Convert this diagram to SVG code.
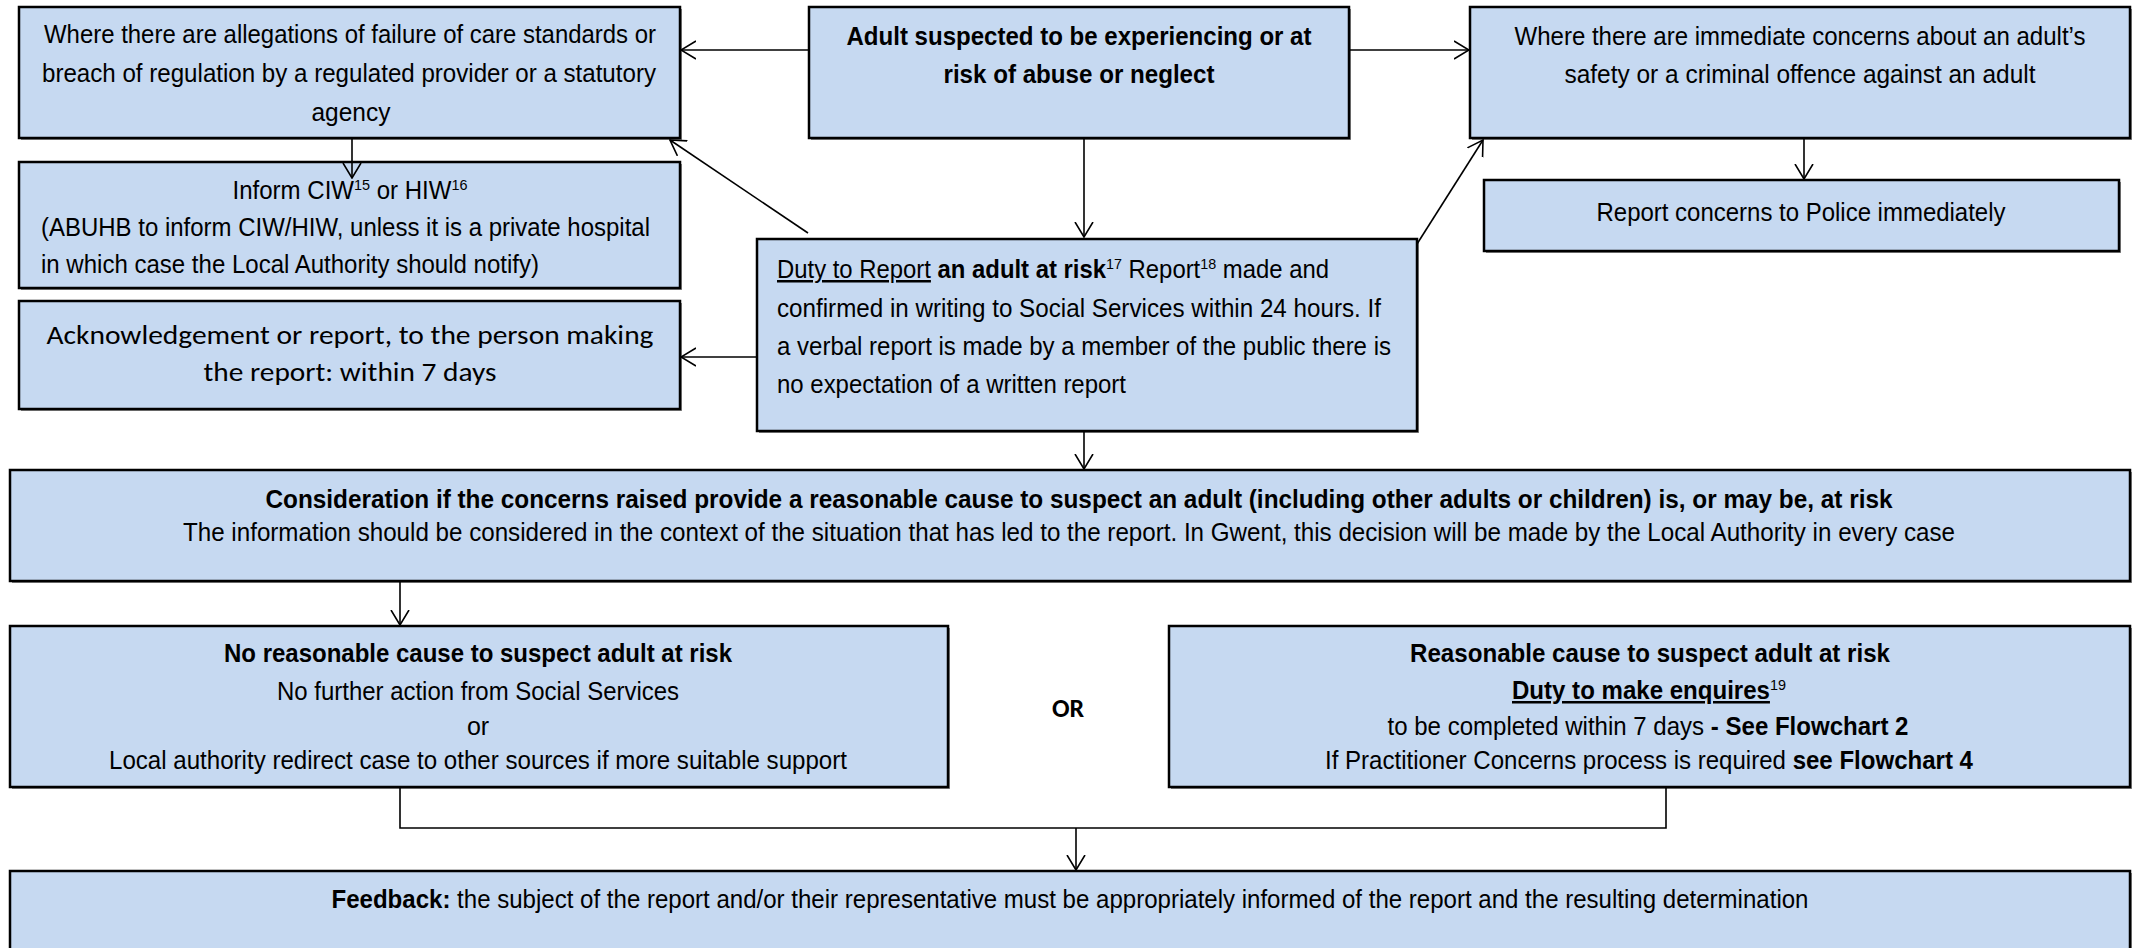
<svg xmlns="http://www.w3.org/2000/svg" width="2138" height="948" viewBox="0 0 2138 948">
<style>
.box{fill:#C6D9F1;stroke:#000;stroke-width:2.5}
.sh{fill:#8a8a8a}
.t{font-family:"Liberation Sans Narrow","Liberation Sans",Arial,sans-serif;font-size:25px;fill:#000}
.c{text-anchor:middle}
.b{font-weight:bold}
.cal{font-family:Carlito,Lato,"Open Sans","Liberation Sans",sans-serif;font-size:26px;fill:#000}
.sup{font-size:15px}
.u{text-decoration:underline}
.ln{fill:none;stroke:#000;stroke-width:1.6}
</style>
<defs>
<marker id="ah" viewBox="0 0 16 20" refX="15" refY="10" markerWidth="16" markerHeight="20" markerUnits="userSpaceOnUse" orient="auto">
<path d="M0,1 L15,10 L0,19" fill="none" stroke="#000" stroke-width="1.6"/>
</marker>
</defs>
<rect width="2138" height="948" fill="#fff"/>

<g id="node-allegations">
<rect class="sh" x="21" y="9" width="661" height="131"/>
<rect class="box" x="19" y="7" width="661" height="131"/>
<text class="t c" x="350" y="43" textLength="612" lengthAdjust="spacingAndGlyphs">Where there are allegations of failure of care standards or</text>
<text class="t c" x="349" y="82" textLength="614" lengthAdjust="spacingAndGlyphs">breach of regulation by a regulated provider or a statutory</text>
<text class="t c" x="351" y="121" textLength="79" lengthAdjust="spacingAndGlyphs">agency</text>
</g>

<g id="node-adult-suspected">
<rect class="sh" x="811" y="9" width="540" height="131"/>
<rect class="box" x="809" y="7" width="540" height="131"/>
<text class="t c b" x="1079" y="45" textLength="465" lengthAdjust="spacingAndGlyphs">Adult suspected to be experiencing or at</text>
<text class="t c b" x="1079" y="83" textLength="271" lengthAdjust="spacingAndGlyphs">risk of abuse or neglect</text>
</g>

<g id="node-immediate-concerns">
<rect class="sh" x="1472" y="9" width="660" height="131"/>
<rect class="box" x="1470" y="7" width="660" height="131"/>
<text class="t c" x="1800" y="45" textLength="571" lengthAdjust="spacingAndGlyphs">Where there are immediate concerns about an adult’s</text>
<text class="t c" x="1800" y="83" textLength="471" lengthAdjust="spacingAndGlyphs">safety or a criminal offence against an adult</text>
</g>

<g id="node-inform-ciw">
<rect class="sh" x="21" y="164" width="661" height="126"/>
<rect class="box" x="19" y="162" width="661" height="126"/>
<text class="t c" x="350" y="199" textLength="235" lengthAdjust="spacingAndGlyphs">Inform CIW<tspan class="sup" dy="-9">15</tspan><tspan dy="9"> or HIW</tspan><tspan class="sup" dy="-9">16</tspan></text>
<text class="t" x="41" y="236" textLength="609" lengthAdjust="spacingAndGlyphs">(ABUHB to inform CIW/HIW, unless it is a private hospital</text>
<text class="t" x="41" y="273" textLength="498" lengthAdjust="spacingAndGlyphs">in which case the Local Authority should notify)</text>
</g>

<g id="node-acknowledgement">
<rect class="sh" x="21" y="303" width="661" height="108"/>
<rect class="box" x="19" y="301" width="661" height="108"/>
<text class="cal c" x="350" y="344" textLength="607" lengthAdjust="spacingAndGlyphs">Acknowledgement or report, to the person making</text>
<text class="cal c" x="350" y="381" textLength="293" lengthAdjust="spacingAndGlyphs">the report: within 7 days</text>
</g>

<g id="node-duty-to-report">
<rect class="sh" x="759" y="241" width="660" height="192"/>
<rect class="box" x="757" y="239" width="660" height="192"/>
<text class="t" x="777" y="278" textLength="552" lengthAdjust="spacingAndGlyphs"><tspan class="u">Duty to Report</tspan> <tspan class="b">an adult at risk</tspan><tspan class="sup" dy="-9">17</tspan><tspan dy="9"> Report</tspan><tspan class="sup" dy="-9">18</tspan><tspan dy="9"> made and</tspan></text>
<text class="t" x="777" y="317" textLength="604" lengthAdjust="spacingAndGlyphs">confirmed in writing to Social Services within 24 hours.  If</text>
<text class="t" x="777" y="355" textLength="614" lengthAdjust="spacingAndGlyphs">a verbal report is made by a member of the public there is</text>
<text class="t" x="777" y="393" textLength="349" lengthAdjust="spacingAndGlyphs">no expectation of a written report</text>
</g>

<g id="node-police">
<rect class="sh" x="1486" y="182" width="635" height="71"/>
<rect class="box" x="1484" y="180" width="635" height="71"/>
<text class="t c" x="1801" y="221" textLength="409" lengthAdjust="spacingAndGlyphs">Report concerns to Police immediately</text>
</g>

<g id="node-consideration">
<rect class="sh" x="12" y="472" width="2120" height="111"/>
<rect class="box" x="10" y="470" width="2120" height="111"/>
<text class="t c b" x="1079" y="508" textLength="1627" lengthAdjust="spacingAndGlyphs">Consideration if the concerns raised provide a reasonable cause to suspect an adult (including other adults or children) is, or may be, at risk</text>
<text class="t c" x="1069" y="541" textLength="1772" lengthAdjust="spacingAndGlyphs">The information should be considered in the context of the situation that has led to the report.  In Gwent, this decision will be made by the Local Authority in every case</text>
</g>

<g id="node-no-cause">
<rect class="sh" x="12" y="628" width="938" height="161"/>
<rect class="box" x="10" y="626" width="938" height="161"/>
<text class="t c b" x="478" y="662" textLength="508" lengthAdjust="spacingAndGlyphs">No reasonable cause to suspect adult at risk</text>
<text class="t c" x="478" y="700" textLength="402" lengthAdjust="spacingAndGlyphs">No further action from Social Services</text>
<text class="t c" x="478" y="735">or</text>
<text class="t c" x="478" y="769" textLength="738" lengthAdjust="spacingAndGlyphs">Local authority redirect case to other sources if more suitable support</text>
</g>

<g id="label-or">
<text class="cal c b" x="1068" y="717" font-size="24">OR</text>
</g>

<g id="node-cause">
<rect class="sh" x="1171" y="628" width="961" height="161"/>
<rect class="box" x="1169" y="626" width="961" height="161"/>
<text class="t c b" x="1650" y="662" textLength="480" lengthAdjust="spacingAndGlyphs">Reasonable cause to suspect adult at risk</text>
<text class="t c" x="1649" y="699" textLength="274" lengthAdjust="spacingAndGlyphs"><tspan class="b u">Duty to make enquires</tspan><tspan class="sup" dy="-9">19</tspan></text>
<text class="t c" x="1648" y="735" textLength="521" lengthAdjust="spacingAndGlyphs">to be completed within 7 days <tspan class="b">- See Flowchart 2</tspan></text>
<text class="t c" x="1649" y="769" textLength="648" lengthAdjust="spacingAndGlyphs">If Practitioner Concerns process is required <tspan class="b">see Flowchart 4</tspan></text>
</g>

<g id="node-feedback">
<rect class="sh" x="12" y="873" width="2120" height="90"/>
<rect class="box" x="10" y="871" width="2120" height="90"/>
<text class="t c" x="1070" y="908" textLength="1477" lengthAdjust="spacingAndGlyphs"><tspan class="b">Feedback:</tspan> the subject of the report and/or their representative must be appropriately informed of the report and the resulting determination</text>
</g>

<g id="connectors">
<line class="ln" x1="809" y1="50" x2="681" y2="50" marker-end="url(#ah)"/>
<line class="ln" x1="1349" y1="50" x2="1469" y2="50" marker-end="url(#ah)"/>
<line class="ln" x1="1084" y1="138" x2="1084" y2="237" marker-end="url(#ah)"/>
<line class="ln" x1="352" y1="138" x2="352" y2="178" marker-end="url(#ah)"/>
<line class="ln" x1="808" y1="233" x2="670" y2="140" marker-end="url(#ah)"/>
<line class="ln" x1="757" y1="357" x2="681" y2="357" marker-end="url(#ah)"/>
<line class="ln" x1="1417" y1="244" x2="1483" y2="140" marker-end="url(#ah)"/>
<line class="ln" x1="1804" y1="138" x2="1804" y2="179" marker-end="url(#ah)"/>
<line class="ln" x1="1084" y1="431" x2="1084" y2="469" marker-end="url(#ah)"/>
<line class="ln" x1="400" y1="581" x2="400" y2="625" marker-end="url(#ah)"/>
<polyline class="ln" points="400,787 400,828 1666,828 1666,787"/>
<line class="ln" x1="1076" y1="828" x2="1076" y2="870" marker-end="url(#ah)"/>
</g>
</svg>
